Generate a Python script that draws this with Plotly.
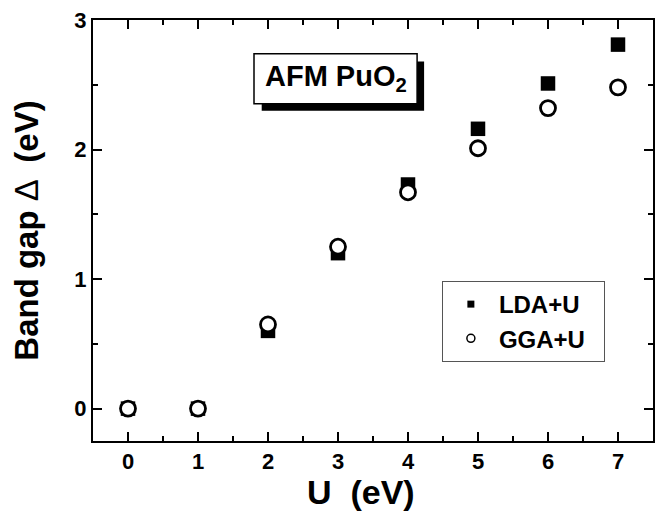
import plotly.graph_objects as go

U = [0, 1, 2, 3, 4, 5, 6, 7]
lda_u = [0.0, 0.0, 0.6, 1.2, 1.73, 2.16, 2.51, 2.81]
gga_u = [0.0, 0.0, 0.65, 1.25, 1.67, 2.01, 2.32, 2.48]
series_names = ["LDA+U", "GGA+U"]
x_ticks = [0, 1, 2, 3, 4, 5, 6, 7]
y_ticks = [0, 1, 2, 3]

FONT = "Liberation Sans, Arial, sans-serif"
NBSP = "\u00a0"

fig = go.Figure()
fig.add_trace(go.Scatter(x=U, y=lda_u, mode="markers", showlegend=False,
                         marker=dict(symbol="square", size=14.5, color="black",
                                     line=dict(width=0))))
fig.add_trace(go.Scatter(x=U, y=gga_u, mode="markers", showlegend=False,
                         marker=dict(symbol="circle", size=15, color="white",
                                     line=dict(width=2.8, color="black"))))
# legend entries with small symbols
fig.add_trace(go.Scatter(x=[None], y=[None], mode="markers", name=series_names[0] + NBSP * 2,
                         marker=dict(symbol="square", size=7, color="black")))
fig.add_trace(go.Scatter(x=[None], y=[None], mode="markers", name=series_names[1] + NBSP * 2,
                         marker=dict(symbol="circle", size=8, color="white",
                                     line=dict(width=1.5, color="black"))))

axis_common = dict(
    showline=True, linewidth=2, linecolor="black", mirror="allticks",
    ticks="inside", ticklen=9, tickwidth=2, tickcolor="black",
    showgrid=False, zeroline=False,
    tickfont=dict(family=FONT, size=22, color="black", weight="bold"),
    minor=dict(ticks="inside", ticklen=5, tickwidth=2, tickcolor="black", dtick=0.5, showgrid=False),
)

fig.update_xaxes(range=[-0.5, 7.5], tickvals=x_ticks, **axis_common)
fig.update_yaxes(range=[-0.25, 3.0], tickvals=y_ticks, **axis_common,
                 title=dict(text="<b>Band gap</b> \u0394 <b> (eV)</b>",
                            font=dict(family=FONT, size=33, color="black"),
                            standoff=26))

# x-axis title placed slightly left of centre, as in the reference
fig.add_annotation(xref="paper", yref="paper", x=0.478, y=0, yshift=-30,
                   xanchor="center", yanchor="top", showarrow=False,
                   text="<b>U  (eV)</b>", font=dict(family=FONT, size=34, color="black"))

# Title box with drop shadow
fig.add_shape(type="rect", x0=1.91, x1=4.23, y0=2.30, y1=2.68,
              fillcolor="black", line=dict(width=0), layer="above")
fig.add_shape(type="rect", x0=1.8, x1=4.13, y0=2.354, y1=2.74,
              fillcolor="white", line=dict(width=1.5, color="black"), layer="above")
fig.add_annotation(x=2.965, y=2.55, text="<b>AFM PuO<sub>2</sub></b>", showarrow=False,
                   font=dict(family=FONT, size=29, color="black"))

fig.update_layout(
    width=657, height=514,
    margin=dict(l=93, r=2, t=20, b=73),
    paper_bgcolor="white", plot_bgcolor="white",
    legend=dict(x=0.623, y=0.38, xanchor="left", yanchor="top",
                bordercolor="#555", borderwidth=1, bgcolor="white",
                font=dict(family=FONT, size=24, color="black", weight="bold"),
                itemwidth=46),
)

fig.write_html("out.html", config={"displayModeBar": False},
               post_script="document.body.style.margin='0';")
